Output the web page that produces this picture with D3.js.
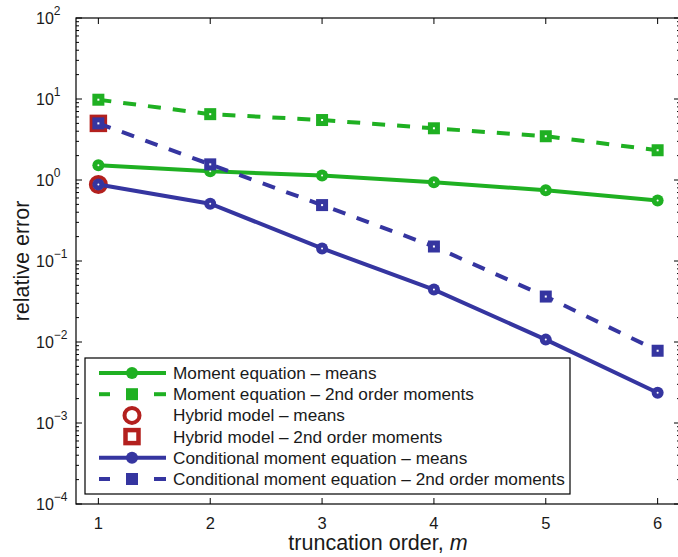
<!DOCTYPE html>
<html>
<head>
<meta charset="utf-8">
<script src="https://cdn.jsdelivr.net/npm/d3@7"></script>
<style>
  html, body { margin: 0; padding: 0; background: #fff; }
  svg { display: block; font-family: "Liberation Sans", Arial, Helvetica, sans-serif; }
</style>
</head>
<body>
<svg id="chart" width="678" height="557"></svg>
<script>
// Truncation orders
const orders = [1, 2, 3, 4, 5, 6];

// Relative errors per method
const momentMeans      = [1.52, 1.28, 1.14, 0.94, 0.745, 0.56];
const momentSecond     = [9.8, 6.5, 5.5, 4.35, 3.47, 2.33];
const hybridMeans      = [0.88];
const hybridSecond     = [5.0];
const conditionalMeans = [0.88, 0.51, 0.143, 0.0444, 0.0107, 0.00236];
const conditionalSecond= [5.0, 1.56, 0.49, 0.151, 0.0364, 0.0078];

const yTickExponents = [2, 1, 0, -1, -2, -3, -4];
const xTickValues = [1, 2, 3, 4, 5, 6];

const legendLabels = [
  "Moment equation \u2013 means",
  "Moment equation \u2013 2nd order moments",
  "Hybrid model \u2013 means",
  "Hybrid model \u2013 2nd order moments",
  "Conditional moment equation \u2013 means",
  "Conditional moment equation \u2013 2nd order moments"
];

const GREEN = "#1fb022";
const BLUE = "#3535a0";
const RED = "#b3201e";
const TEXT = "#1a1a1a";

const svg = d3.select("#chart");
const plotL = 76, plotR = 680, plotT = 18, plotB = 504;

const x = d3.scaleLinear().domain([0.8, 6.2]).range([plotL, plotR]);
const y = d3.scaleLog().domain([1e-4, 1e2]).range([plotB, plotT]);

// Frame
svg.append("rect")
  .attr("x", plotL).attr("y", plotT)
  .attr("width", plotR - plotL).attr("height", plotB - plotT)
  .attr("fill", "none").attr("stroke", "#000").attr("stroke-width", 1.2);

// Y ticks (major + minor) on both sides
const ticksG = svg.append("g").attr("stroke", "#000").attr("stroke-width", 1);
for (let e = -4; e <= 2; e++) {
  const v = Math.pow(10, e);
  ticksG.append("line").attr("x1", plotL).attr("x2", plotL + 6).attr("y1", y(v)).attr("y2", y(v));
  ticksG.append("line").attr("x1", plotR).attr("x2", plotR - 6).attr("y1", y(v)).attr("y2", y(v));
  if (e < 2) {
    for (let k = 2; k <= 9; k++) {
      const mv = k * v;
      ticksG.append("line").attr("x1", plotL).attr("x2", plotL + 3).attr("y1", y(mv)).attr("y2", y(mv));
      ticksG.append("line").attr("x1", plotR).attr("x2", plotR - 3).attr("y1", y(mv)).attr("y2", y(mv));
    }
  }
}
// X ticks bottom and top
xTickValues.forEach(t => {
  ticksG.append("line").attr("x1", x(t)).attr("x2", x(t)).attr("y1", plotB).attr("y2", plotB - 6);
  ticksG.append("line").attr("x1", x(t)).attr("x2", x(t)).attr("y1", plotT).attr("y2", plotT + 6);
});

// Y tick labels: "10" with a superscript exponent
yTickExponents.forEach(e => {
  const t = svg.append("text")
    .attr("x", 36).attr("y", y(Math.pow(10, e)) + 6)
    .attr("text-anchor", "start").attr("font-size", 16).attr("fill", TEXT);
  t.append("tspan").text("10");
  t.append("tspan").attr("dy", -9).attr("font-size", 12).text(e < 0 ? "\u2212" + (-e) : String(e));
});

// X tick labels
xTickValues.forEach(t => {
  svg.append("text").attr("x", x(t)).attr("y", plotB + 25)
    .attr("text-anchor", "middle").attr("font-size", 16.5).attr("fill", TEXT).text(t);
});

// Axis titles
const xt = svg.append("text").attr("x", x(3.5)).attr("y", 550)
  .attr("text-anchor", "middle").attr("font-size", 21.5).attr("fill", TEXT);
xt.append("tspan").text("truncation order, ");
xt.append("tspan").attr("font-style", "italic").text("m");

svg.append("text")
  .attr("transform", `translate(29,${(plotT + plotB) / 2}) rotate(-90)`)
  .attr("text-anchor", "middle").attr("font-size", 21.5).attr("fill", TEXT)
  .text("relative error");

const plot = svg.append("g");
const line = d3.line().x((d, i) => x(orders[i])).y(d => y(d));

function drawSeries(values, color, dashed, marker) {
  plot.append("path").datum(values)
    .attr("d", line).attr("fill", "none").attr("stroke", color)
    .attr("stroke-width", 4).attr("stroke-dasharray", dashed ? "13,12" : null);
  values.forEach((v, i) => drawMarker(plot, x(orders[i]), y(v), color, marker, true));
}

function drawMarker(g, cx, cy, color, marker, dot) {
  if (marker === "circle") {
    g.append("circle").attr("cx", cx).attr("cy", cy).attr("r", 6).attr("fill", color);
    if (dot) g.append("circle").attr("cx", cx).attr("cy", cy).attr("r", 1).attr("fill", "#fff");
  } else if (marker === "square") {
    g.append("rect").attr("x", cx - 6).attr("y", cy - 6).attr("width", 12).attr("height", 12).attr("fill", color);
    if (dot) g.append("rect").attr("x", cx - 1).attr("y", cy - 1).attr("width", 2).attr("height", 2).attr("fill", "#fff");
  } else if (marker === "ocircle") {
    g.append("circle").attr("cx", cx).attr("cy", cy).attr("r", 7.5).attr("fill", "none")
      .attr("stroke", color).attr("stroke-width", 4);
  } else if (marker === "osquare") {
    g.append("rect").attr("x", cx - 6.5).attr("y", cy - 6.5).attr("width", 13).attr("height", 13)
      .attr("fill", "none").attr("stroke", color).attr("stroke-width", 4.5);
  }
}

drawSeries(momentMeans, GREEN, false, "circle");
drawSeries(momentSecond, GREEN, true, "square");
hybridMeans.forEach((v, i) => drawMarker(plot, x(orders[i]), y(v), RED, "ocircle"));
hybridSecond.forEach((v, i) => drawMarker(plot, x(orders[i]), y(v), RED, "osquare"));
drawSeries(conditionalMeans, BLUE, false, "circle");
drawSeries(conditionalSecond, BLUE, true, "square");

// Legend
const legendSpec = [
  { color: GREEN, dashed: false, line: true, marker: "circle" },
  { color: GREEN, dashed: true, line: true, marker: "square" },
  { color: RED, line: false, marker: "ocircle" },
  { color: RED, line: false, marker: "osquare" },
  { color: BLUE, dashed: false, line: true, marker: "circle" },
  { color: BLUE, dashed: true, line: true, marker: "square" }
];
const lg = svg.append("g");
lg.append("rect").attr("x", 85).attr("y", 358).attr("width", 485).attr("height", 136)
  .attr("fill", "#fff").attr("stroke", "#000").attr("stroke-width", 1.2);
legendSpec.forEach((s, i) => {
  const cy = 373 + i * 21.2;
  if (s.line) {
    if (s.dashed) {
      [[99, 110], [126, 138], [154, 166]].forEach(([a, b]) =>
        lg.append("line").attr("x1", a).attr("x2", b).attr("y1", cy).attr("y2", cy)
          .attr("stroke", s.color).attr("stroke-width", 4));
    } else {
      lg.append("line").attr("x1", 99).attr("x2", 166).attr("y1", cy).attr("y2", cy)
        .attr("stroke", s.color).attr("stroke-width", 4);
    }
  }
  drawMarker(lg, 132, cy, s.color, s.marker, false);
  lg.append("text").attr("x", 173).attr("y", cy + 6).attr("font-size", 17.2)
    .attr("fill", TEXT).text(legendLabels[i]);
});
</script>
</body>
</html>
